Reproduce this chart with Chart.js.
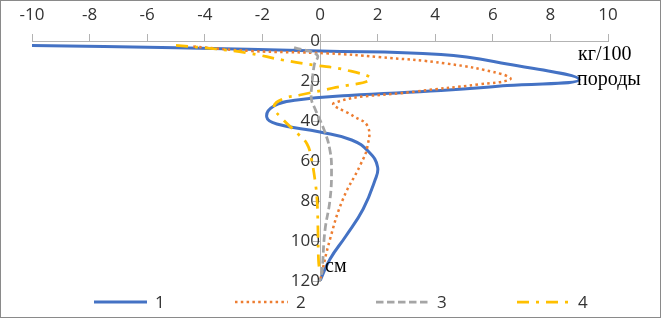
<!DOCTYPE html>
<html lang="ru">
<head>
<meta charset="UTF-8">
<title>Profile</title>
<script src="https://cdn.jsdelivr.net/npm/chart.js"></script>
<style>
    body { margin: 0; background: #fff; }
    #wrap { position: relative; width: 661px; height: 318px; }
    #chart { position: absolute; left: 0; top: 0; }
    #frame { position: absolute; left: 0; top: 0; width: 661px; height: 318px; box-sizing: border-box; border: 1px solid #8a8a8a; pointer-events: none; }
    #legend { position: absolute; left: 94px; top: 290px; height: 23px; line-height: 23px; display: flex; font: 17px 'Open Sans', sans-serif; color: #333; }
    .item { width: 141px; display: flex; align-items: center; }
    .item svg { margin-right: 8px; }
</style>
</head>
<body>
<div id="wrap">
    <canvas id="chart" width="661" height="318"></canvas>
    <div id="legend"></div>
    <div id="frame"></div>
</div>
<script>
    // series names and axis ranges
    const seriesNames = ['1', '2', '3', '4'];
    const xMin = -10, xMax = 10, xStep = 2;
    const depthMin = 0, depthMax = 120, depthStep = 20;

    // series 1 (solid blue): value, depth in cm
    const value1 = [-10, -5, 0, 4.2, 6.5, 9, 6.5, 4.2, 1, -0.8, -1.6, -1.85, -1.5, 0, 1.1, 1.7, 2, 1.9, 1.5, 0.9, 0.35, 0];
    const depth1 = [2.3, 3.4, 5, 6.8, 11.5, 19.3, 22.3, 24.8, 27.2, 29.5, 32.5, 38, 41.5, 45.5, 49.5, 55.5, 63, 70, 84, 97.5, 109, 120];

    // series 2 (dotted orange)
    const value2 = [-4.4, -2.4, 0.3, 2, 4.4, 6.3, 6.6, 5.5, 3.3, 0.5, 1.15, 1.65, 1.65, 1.4, 0.8, 0.35, 0];
    const depth2 = [2.8, 5, 6.2, 8, 11.3, 16.5, 19.2, 21.7, 25.3, 31, 37.5, 42.5, 52.5, 62, 79, 99, 120];

    // series 3 (dashed gray)
    const value3 = [-0.9, -0.1, -0.2, -0.28, -0.3, -0.17, 0.17, 0.35, 0.4, 0.35, 0.17, 0.07, 0];
    const depth3 = [3.3, 7, 12, 22, 29, 34, 45.5, 55, 64, 79, 95, 115, 120];

    // series 4 (dash-dot yellow)
    const value4 = [-5, -3.6, -2.4, -1.3, -0.25, 0.9, 1.75, 0.45, -0.7, -1.3, -1.6, -1.3, -0.8, -0.45, -0.3, -0.17, -0.1, -0.07, -0.05, 0];
    const depth4 = [2.2, 4, 6.3, 9.5, 12, 14.5, 19, 23.5, 27, 29, 33, 39, 46, 51.5, 59, 70, 80, 95, 110, 116];

    const styles = [
        { color: '#4472C4', width: 3, dash: [] },
        { color: '#ED7D31', width: 2.5, dash: [2.5, 3.3] },
        { color: '#A5A5A5', width: 2.75, dash: [7.5, 3.5] },
        { color: '#FFC000', width: 2.75, dash: [12, 7, 3, 7] }
    ];

    const values = [value1, value2, value3, value4];
    const depths = [depth1, depth2, depth3, depth4];

    const datasets = seriesNames.map((name, i) => ({
        label: name,
        data: depths[i].map((d, j) => ({ x: values[i][j], y: d })),
        showLine: true,
        borderColor: styles[i].color,
        borderWidth: styles[i].width,
        borderDash: styles[i].dash,
        pointRadius: 0,
        tension: 0.45,
        fill: false,
        order: 4 - i
    }));

    const axisColor = '#b3b3b3';
    const tickFont = { family: 'Open Sans', size: 17 };

    // text boxes put on the chart (units)
    const notes = {
        id: 'notes',
        afterDraw(chart) {
            const c = chart.ctx;
            c.save();
            c.fillStyle = '#000';
            c.font = '20px "Liberation Serif"';
            c.textBaseline = 'middle';
            c.fillText('кг/100', 578, 55);
            c.fillText('породы', 577, 80);
            c.fillText('см', 325, 267);
            c.restore();
        }
    };

    new Chart(document.getElementById('chart'), {
        type: 'scatter',
        data: { datasets: datasets },
        options: {
            responsive: false,
            animation: false,
            layout: { padding: { left: 32, right: 53, top: 0, bottom: 37 } },
            plugins: { legend: { display: false }, tooltip: { enabled: false } },
            scales: {
                x: {
                    type: 'linear',
                    position: 'top',
                    min: xMin,
                    max: xMax,
                    ticks: { stepSize: xStep, padding: 9, color: '#333', font: tickFont },
                    grid: { drawOnChartArea: false, drawTicks: true, tickLength: 7, color: axisColor },
                    border: { color: axisColor },
                    afterFit: s => { s.height = 41; }
                },
                y: {
                    type: 'linear',
                    position: { x: 0 },
                    reverse: true,
                    min: depthMin,
                    max: depthMax,
                    ticks: { stepSize: depthStep, padding: 10, color: '#333', font: tickFont },
                    grid: { drawOnChartArea: false, drawTicks: true, tickLength: 7, color: axisColor },
                    border: { color: axisColor }
                }
            }
        },
        plugins: [notes]
    });

    // legend below the plot
    const legend = document.getElementById('legend');
    datasets.forEach(ds => {
        const item = document.createElement('div');
        item.className = 'item';
        item.innerHTML = '<svg width="53" height="8"><line x1="0" y1="4" x2="53" y2="4" stroke="' + ds.borderColor +
            '" stroke-width="' + ds.borderWidth + '" stroke-dasharray="' + ds.borderDash.join(' ') + '"/></svg><span>' + ds.label + '</span>';
        legend.appendChild(item);
    });
</script>
</body>
</html>
